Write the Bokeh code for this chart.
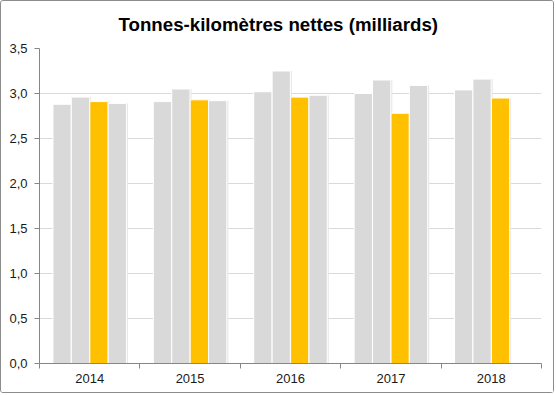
from bokeh.plotting import figure
from bokeh.models import Range1d, FixedTicker, ColumnDataSource
from bokeh.transform import dodge
from bokeh.embed import file_html
from bokeh.resources import INLINE

# ---- data ----
years = ["2014", "2015", "2016", "2017", "2018"]
serie_1 = [2.88, 2.91, 3.02, 3.00, 3.04]
serie_2 = [2.96, 3.05, 3.25, 3.15, 3.16]
serie_3 = [2.91, 2.93, 2.96, 2.78, 2.95]
serie_4 = [2.89, 2.92, 2.98, 3.09, float("nan")]
y_ticks = [0.0, 0.5, 1.0, 1.5, 2.0, 2.5, 3.0, 3.5]
y_tick_labels = ["0,0", "0,5", "1,0", "1,5", "2,0", "2,5", "3,0", "3,5"]
title_text = "Tonnes-kilomètres nettes (milliards)"

FONT = "Liberation Sans"
GRAY = "#d9d9d9"
YELLOW = "#ffc000"
AXIS = "#868686"
TXT = "#1a1a1a"

n = len(years)
centers = [i + 0.5 for i in range(n)]          # category slot centres
bounds = list(range(n + 1))                     # category slot boundaries

source = ColumnDataSource(dict(x=centers, s1=serie_1, s2=serie_2,
                               s3=serie_3, s4=serie_4))

p = figure(x_range=Range1d(0, n), y_range=Range1d(0, 3.5),
           width=554, height=393, output_backend="svg", toolbar_location=None,
           min_border_left=38, min_border_right=14, min_border_top=47,
           min_border_bottom=31)
p.styles = {"border": "1px solid #8c8c8c", "border-radius": "3px"}

bw = 0.182
offsets = [-0.275, -0.092, 0.092, 0.275]
colors = [GRAY, GRAY, YELLOW, GRAY]
for col, off, c in zip(["s1", "s2", "s3", "s4"], offsets, colors):
    # soft shadow
    p.vbar(x=dodge("x", off + 0.01), top=col, width=bw + 0.01,
           source=source, fill_color="#e6e6e6", line_color=None)
    p.vbar(x=dodge("x", off), top=col, width=bw,
           source=source, fill_color=c, line_color="white", line_width=1)

# title
p.title.text = title_text
p.title.align = "left"
p.title.vertical_align = "top"
p.title.text_font = FONT
p.title.text_font_size = "18.7px"
p.title.text_font_style = "bold"
p.title.text_color = "#000000"
p.title.offset = 79
p.title.standoff = 24

p.outline_line_color = None
p.background_fill_color = "white"
p.border_fill_color = "white"

# y axis
ya = p.yaxis[0]
ya.ticker = FixedTicker(ticks=y_ticks)
ya.major_label_overrides = dict(zip(y_ticks, y_tick_labels))
ya.axis_line_color = AXIS
ya.major_tick_line_color = AXIS
ya.major_tick_out = 5
ya.major_tick_in = 0
ya.minor_tick_line_color = None
ya.major_label_standoff = 7
ya.major_label_text_font = FONT
ya.major_label_text_font_size = "13px"
ya.major_label_text_color = TXT
p.ygrid.grid_line_color = GRAY
p.ygrid.ticker = ya.ticker
p.xgrid.grid_line_color = None

# x axis: labels at slot centres, tick marks at slot boundaries
xa = p.xaxis[0]
xa.ticker = FixedTicker(ticks=centers, minor_ticks=bounds)
xa.major_label_overrides = dict(zip(centers, years))
xa.axis_line_color = AXIS
xa.major_tick_line_color = None
xa.major_tick_out = 0
xa.major_tick_in = 0
xa.minor_tick_line_color = AXIS
xa.minor_tick_out = 5
xa.minor_tick_in = 0
xa.major_label_standoff = 5
xa.major_label_text_font = FONT
xa.major_label_text_font_size = "13px"
xa.major_label_text_color = TXT

open("out.html", "w").write(file_html(p, INLINE))
